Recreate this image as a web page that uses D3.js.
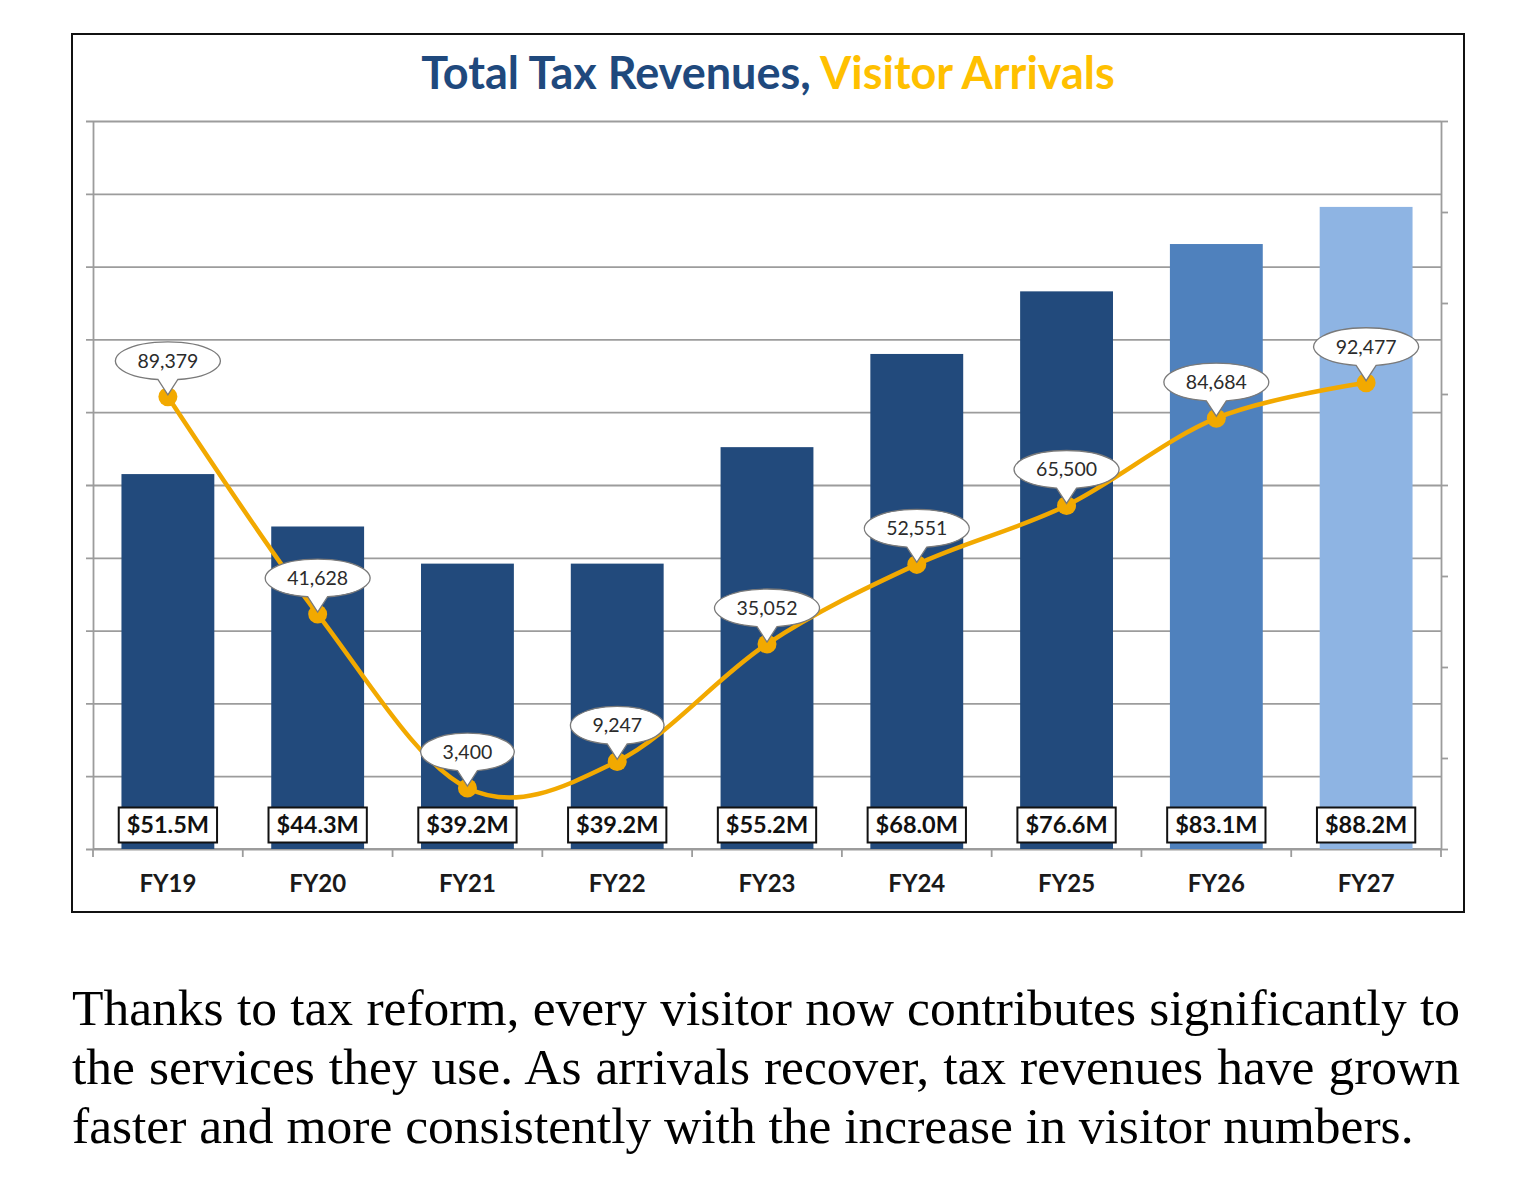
<!DOCTYPE html>
<html>
<head>
<meta charset="utf-8">
<script src="https://cdn.jsdelivr.net/npm/d3@7"></script>
<style>
    body { margin: 0; background: #fff; }
    #caption {
        position: absolute;
        left: 72px;
        top: 978px;
        width: 1388px;
        font-family: 'Liberation Serif', 'Times New Roman', serif;
        font-size: 51.5px;
        line-height: 59px;
        color: #000;
    }
    #caption div { text-align: justify; text-align-last: justify; white-space: nowrap; }
    #caption div.last { text-align-last: left; }
</style>
</head>
<body>
<script>

// Chart data
var categories = [ 'FY19', 'FY20', 'FY21', 'FY22', 'FY23', 'FY24', 'FY25', 'FY26', 'FY27' ];
var revenues = [ 51.5, 44.3, 39.2, 39.2, 55.2, 68.0, 76.6, 83.1, 88.2 ];
var revenue_labels = [ '$51.5M', '$44.3M', '$39.2M', '$39.2M', '$55.2M', '$68.0M', '$76.6M', '$83.1M', '$88.2M' ];
var arrivals = [ 89379, 41628, 3400, 9247, 35052, 52551, 65500, 84684, 92477 ];
var bar_status = [ 'actual', 'actual', 'actual', 'actual', 'actual', 'actual', 'actual', 'estimate', 'projection' ];

var revenue_ticks = [ 0, 10, 20, 30, 40, 50, 60, 70, 80, 90, 100 ];
var arrival_ticks = [ -10000, 10000, 30000, 50000, 70000, 90000, 110000, 130000, 150000 ];

var title_parts = [ 'Total Tax Revenues,', ' Visitor Arrivals' ];
var caption_lines = [
    'Thanks to tax reform, every visitor now contributes significantly to',
    'the services they use. As arrivals recover, tax revenues have grown',
    'faster and more consistently with the increase in visitor numbers.'
];

// Layout
var width = 1536,
    height = 930;
var plot = { left: 93, right: 1441, top: 121, bottom: 849 };
var ui_font = 'Lato, Carlito, "Open Sans", sans-serif';
var grid_color = '#9c9c9c';
var navy = '#1f497d';
var gold = '#ffc000';
var line_color = '#f2a900';

var rows = categories.map( function ( c, i ) {
    return {
        category: c,
        revenue: revenues[ i ],
        label: revenue_labels[ i ],
        arrivals: arrivals[ i ],
        status: bar_status[ i ]
    };
} );

var x = d3.scaleBand()
    .domain( categories )
    .range( [ plot.left, plot.right ] )
    .paddingInner( 0.38 )
    .paddingOuter( 0.19 );

var y_left = d3.scaleLinear()
    .domain( [ 0, 100 ] )
    .range( [ plot.bottom, plot.top ] );

var y_right = d3.scaleLinear()
    .domain( [ -10000, 150000 ] )
    .range( [ plot.bottom, plot.top ] );

var bar_color = d3.scaleOrdinal()
    .domain( [ 'actual', 'estimate', 'projection' ] )
    .range( [ '#224a7c', '#4f81bd', '#8eb4e3' ] );

var svg = d3.select( 'body' )
    .append( 'svg' )
    .attr( 'width', width )
    .attr( 'height', height )
    .style( 'position', 'absolute' )
    .style( 'left', 0 )
    .style( 'top', 0 );

// Outer frame
svg.append( 'rect' )
    .attr( 'x', 72 )
    .attr( 'y', 34 )
    .attr( 'width', 1392 )
    .attr( 'height', 878 )
    .attr( 'fill', '#fff' )
    .attr( 'stroke', '#111' )
    .attr( 'stroke-width', 2 );

// Title
var title = svg.append( 'text' )
    .attr( 'x', 768 )
    .attr( 'y', 89 )
    .attr( 'text-anchor', 'middle' )
    .style( 'font-family', ui_font )
    .style( 'font-weight', 'bold' )
    .style( 'font-size', '45px' );

title.selectAll( 'tspan' )
    .data( title_parts )
    .enter()
    .append( 'tspan' )
    .attr( 'fill', function ( d, i ) { return i === 0 ? navy : gold; } )
    .text( function ( d ) { return d; } );

// Left axis with gridlines
var left_axis = svg.append( 'g' )
    .attr( 'transform', 'translate(' + plot.left + ',0)' )
    .call( d3.axisLeft( y_left )
        .tickValues( revenue_ticks )
        .tickSize( 7 )
        .tickSizeOuter( 0 )
        .tickFormat( '' ) );

left_axis.selectAll( '.tick line' )
    .attr( 'x1', plot.right - plot.left );

// Right axis
svg.append( 'g' )
    .attr( 'transform', 'translate(' + plot.right + ',0)' )
    .call( d3.axisRight( y_right )
        .tickValues( arrival_ticks )
        .tickSize( 7 )
        .tickSizeOuter( 0 )
        .tickFormat( '' ) );

// Bottom axis: category boundaries as ticks, labels centred under bars
var boundaries = categories.map( function ( c ) {
    return x( c ) - ( x.step() - x.bandwidth() ) / 2;
} );
boundaries.push( plot.right );

var bottom = svg.append( 'g' );

bottom.append( 'line' )
    .attr( 'x1', plot.left )
    .attr( 'x2', plot.right )
    .attr( 'y1', plot.bottom )
    .attr( 'y2', plot.bottom );

bottom.selectAll( '.bound' )
    .data( boundaries )
    .enter()
    .append( 'line' )
    .attr( 'class', 'bound' )
    .attr( 'x1', function ( d ) { return d; } )
    .attr( 'x2', function ( d ) { return d; } )
    .attr( 'y1', plot.bottom )
    .attr( 'y2', plot.bottom + 8 );

var bottom_axis = svg.append( 'g' )
    .attr( 'transform', 'translate(0,' + plot.bottom + ')' )
    .call( d3.axisBottom( x ).tickSize( 0 ).tickPadding( 26 ) );

bottom_axis.select( '.domain' ).remove();
bottom_axis.selectAll( 'text' )
    .style( 'font-family', ui_font )
    .style( 'font-weight', 'bold' )
    .style( 'font-size', '24px' )
    .attr( 'fill', '#1a1a1a' );

svg.selectAll( '.domain, .tick line, .bound, g > line' )
    .attr( 'stroke', grid_color )
    .attr( 'stroke-width', 1.8 );

// Bars
svg.append( 'g' )
    .selectAll( 'rect' )
    .data( rows )
    .enter()
    .append( 'rect' )
    .attr( 'x', function ( d ) { return x( d.category ); } )
    .attr( 'y', function ( d ) { return y_left( d.revenue ); } )
    .attr( 'width', x.bandwidth() )
    .attr( 'height', function ( d ) { return y_left( 0 ) - y_left( d.revenue ); } )
    .attr( 'fill', function ( d ) { return bar_color( d.status ); } );

// Revenue labels in boxes at the bar base
var bar_labels = svg.append( 'g' )
    .selectAll( 'g' )
    .data( rows )
    .enter()
    .append( 'g' )
    .attr( 'transform', function ( d ) {
        return 'translate(' + ( x( d.category ) + x.bandwidth() / 2 ) + ',' + ( y_left( 0 ) - 24 ) + ')';
    } );

bar_labels.append( 'rect' )
    .attr( 'fill', '#fff' )
    .attr( 'stroke', '#111' )
    .attr( 'stroke-width', 2 );

bar_labels.append( 'text' )
    .attr( 'text-anchor', 'middle' )
    .attr( 'dy', '0.36em' )
    .style( 'font-family', ui_font )
    .style( 'font-weight', 'bold' )
    .style( 'font-size', '23.5px' )
    .attr( 'fill', '#111' )
    .text( function ( d ) { return d.label; } );

bar_labels.each( function () {
    var g = d3.select( this );
    var w = g.select( 'text' ).node().getComputedTextLength() + 16;
    g.select( 'rect' )
        .attr( 'x', -w / 2 )
        .attr( 'y', -17.5 )
        .attr( 'width', w )
        .attr( 'height', 35 );
} );

// Visitor arrivals line
var arrival_line = d3.line()
    .x( function ( d ) { return x( d.category ) + x.bandwidth() / 2; } )
    .y( function ( d ) { return y_right( d.arrivals ); } )
    .curve( d3.curveCardinal.tension( 0 ) );

svg.append( 'path' )
    .datum( rows )
    .attr( 'd', arrival_line )
    .attr( 'fill', 'none' )
    .attr( 'stroke', line_color )
    .attr( 'stroke-width', 4.5 );

svg.append( 'g' )
    .selectAll( 'circle' )
    .data( rows )
    .enter()
    .append( 'circle' )
    .attr( 'cx', function ( d ) { return x( d.category ) + x.bandwidth() / 2; } )
    .attr( 'cy', function ( d ) { return y_right( d.arrivals ); } )
    .attr( 'r', 9.5 )
    .attr( 'fill', line_color );

// Callouts
var callouts = svg.append( 'g' )
    .selectAll( 'g' )
    .data( rows )
    .enter()
    .append( 'g' )
    .attr( 'transform', function ( d ) {
        return 'translate(' + ( x( d.category ) + x.bandwidth() / 2 ) + ',' + y_right( d.arrivals ) + ')';
    } );

callouts.append( 'path' )
    .attr( 'fill', '#fff' )
    .attr( 'stroke', '#7a7a7a' )
    .attr( 'stroke-width', 1.3 );

callouts.append( 'text' )
    .attr( 'y', -36 )
    .attr( 'dy', '0.35em' )
    .attr( 'text-anchor', 'middle' )
    .style( 'font-family', ui_font )
    .style( 'font-size', '19.5px' )
    .attr( 'fill', '#2b2b2b' )
    .text( function ( d ) { return d3.format( ',' )( d.arrivals ); } );

callouts.each( function () {
    var g = d3.select( this );
    var rx = g.select( 'text' ).node().getComputedTextLength() / 2 + 22;
    var ry = 19;
    var cy = -36;
    var dx = 10;
    var by = cy + ry * Math.sqrt( 1 - ( dx / rx ) * ( dx / rx ) );
    g.select( 'path' ).attr( 'd',
        'M' + ( -dx ) + ',' + by +
        'A' + rx + ',' + ry + ' 0 1 1 ' + dx + ',' + by +
        'L0,-2Z' );
} );

// Caption
d3.select( 'body' )
    .append( 'div' )
    .attr( 'id', 'caption' )
    .selectAll( 'div' )
    .data( caption_lines )
    .enter()
    .append( 'div' )
    .attr( 'class', function ( d, i ) { return i === caption_lines.length - 1 ? 'last' : null; } )
    .text( function ( d ) { return d; } );

</script>
</body>
</html>
